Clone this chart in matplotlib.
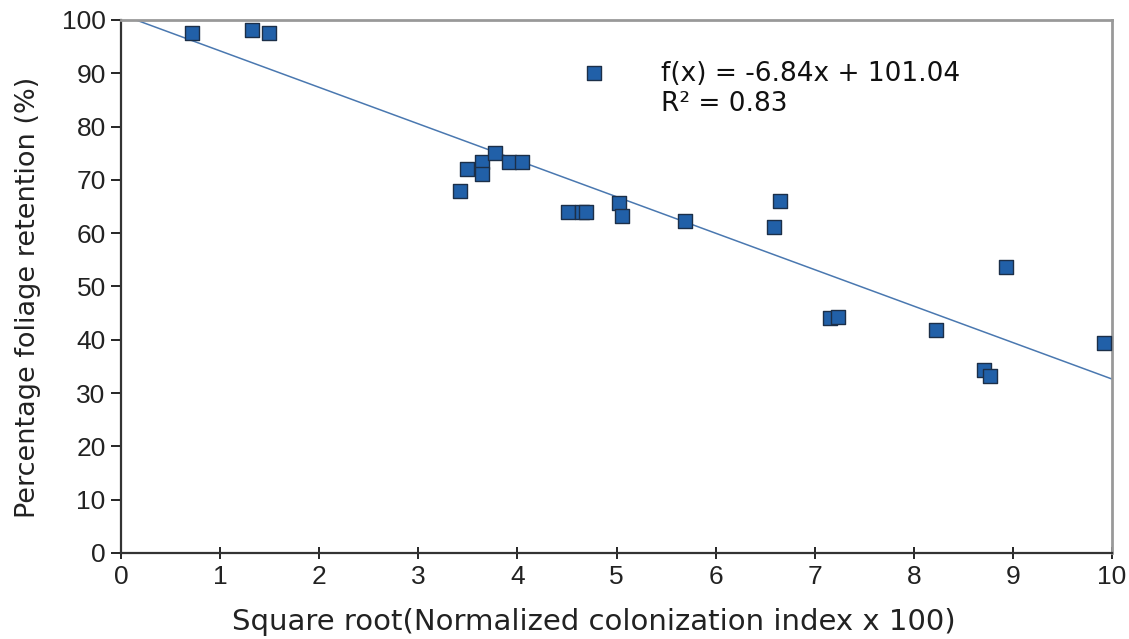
import numpy as np
import matplotlib
matplotlib.use("Agg")
import matplotlib.pyplot as plt

# sqrt(normalized colonization index x 100) vs foliage retention (%)
x_vals = [0.72, 1.32, 1.49, 4.77, 3.42, 3.49, 3.64, 3.64, 3.77, 3.92, 4.05,
          4.51, 4.65, 4.69, 5.03, 5.06, 5.69, 6.59, 6.65, 7.15, 7.24, 8.22,
          8.71, 8.77, 8.93, 9.92]
y_vals = [97.6, 98.1, 97.6, 90.1, 67.9, 72.0, 73.4, 71.1, 75.0, 73.4, 73.4,
          64.0, 64.0, 64.0, 65.7, 63.2, 62.3, 61.2, 66.0, 44.1, 44.3, 41.8,
          34.3, 33.2, 53.7, 39.4]
slope = -6.84
intercept = 101.04
r2 = 0.83

fig = plt.figure(figsize=(11.29, 6.39), dpi=100, facecolor="white")
ax = fig.add_axes([121 / 1129, 1 - 553 / 639, (1112 - 121) / 1129, (553 - 20) / 639])

xl = np.array([0, 10])
ax.plot(xl, slope * xl + intercept, color="#4a78b0", lw=1.1, zorder=2)
ax.scatter(x_vals, y_vals, marker="s", s=100, facecolor="#2160a8",
           edgecolor="#1c2f48", linewidth=1.0, zorder=3, clip_on=False)

ax.text(5.45, 89.9, "f(x) = -6.84x + 101.04", fontsize=19,
        family="DejaVu Sans", va="center", ha="left", color="#111111")
ax.text(5.45, 84.3, "R² = 0.83", fontsize=19,
        family="DejaVu Sans", va="center", ha="left", color="#111111")

ax.set_xlim(0, 10)
ax.set_ylim(0, 100)
ax.set_xticks(range(0, 11))
ax.set_yticks(range(0, 101, 10))
ax.tick_params(axis="both", labelsize=19, labelcolor="#222222",
               labelfontfamily="Liberation Sans")
ax.tick_params(axis="x", direction="inout", length=9, width=1.2, pad=4)
ax.tick_params(axis="y", direction="out", length=7, width=1.2, pad=4)

ax.spines["left"].set_color("#333333")
ax.spines["bottom"].set_color("#333333")
ax.spines["left"].set_linewidth(1.6)
ax.spines["bottom"].set_linewidth(1.6)
ax.spines["top"].set_color("#999999")
ax.spines["right"].set_color("#999999")
ax.spines["top"].set_linewidth(2)
ax.spines["right"].set_linewidth(2)

ax.set_xlabel("Square root(Normalized colonization index x 100)",
              fontsize=21, family="DejaVu Sans", color="#222222")
ax.set_ylabel("Percentage foliage retention (%)",
              fontsize=19.5, family="DejaVu Sans", color="#222222")
ax.xaxis.set_label_coords(0.477, -0.104)
ax.yaxis.set_label_coords(-0.081, 0.48)

plt.savefig("out.png", dpi=100, facecolor="white")
